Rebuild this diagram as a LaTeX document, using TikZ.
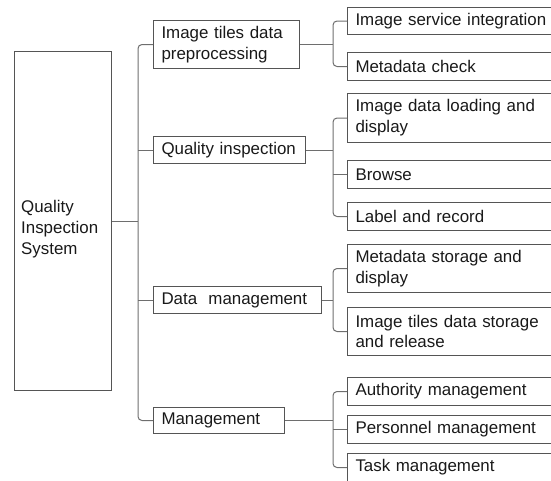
\documentclass[tikz,border=0pt]{standalone}
\usepackage{fontspec}
\setmainfont{Liberation Sans}
\definecolor{boxgray}{RGB}{85,85,85}
\definecolor{linegray}{RGB}{110,110,110}
\definecolor{inkgray}{RGB}{25,25,25}
\begin{document}
\begin{tikzpicture}[x=1pt,y=-1pt,
  every node/.style={font=\fontsize{16.9}{20.8}\selectfont, text=inkgray},
  box/.style={draw=boxgray, line width=1pt, inner xsep=8pt, inner ysep=0pt,
              align=left, anchor=north west},
  leaf/.style={box, minimum width=223pt, text width=207pt},
  conn/.style={draw=linegray, line width=1pt},
]
\useasboundingbox (0,0) rectangle (551,480);
\clip (0,0) rectangle (551,480);

% columns of the two bus lines
\coordinate (col1) at (138,0);
\coordinate (col2) at (333,0);

% root
\node[box, minimum width=97pt, minimum height=339pt] (root) at (14,51) {};
\node[anchor=west, align=left, inner sep=0pt] (roottext) at (21,229)
  {Quality\\Inspection\\System};

% first level
\node[box, minimum width=146pt, minimum height=48pt, text width=130pt] (b1) at (153,20)
  {Image tiles data\\preprocessing};
\node[box, minimum width=152pt, minimum height=27pt, text width=136pt] (b2) at (153,136)
  {Quality inspection};
\node[box, minimum width=168pt, minimum height=27pt, text width=152pt] (b3) at (153,286)
  {Data\ \ management};
\node[box, minimum width=131pt, minimum height=26pt, text width=115pt] (b4) at (153,407)
  {Management};

% second level
\node[leaf, minimum height=27pt] (l11) at (347,7)   {Image service integration};
\node[leaf, minimum height=28pt] (l12) at (347,52)  {Metadata check};
\node[leaf, minimum height=49pt] (l21) at (347,93)  {Image data loading and\\display};
\node[leaf, minimum height=28pt] (l22) at (347,160) {Browse};
\node[leaf, minimum height=28pt] (l23) at (347,202) {Label and record};
\node[leaf, minimum height=48pt] (l31) at (347,244) {Metadata storage and\\display};
\node[leaf, minimum height=48pt] (l32) at (347,307) {Image tiles data storage\\and release};
\node[leaf, minimum height=28pt] (l41) at (347,377) {Authority management};
\node[leaf, minimum height=28pt] (l42) at (347,415) {Personnel management};
\node[leaf, minimum height=28pt] (l43) at (347,453) {Task management};

% bus junctions
\coordinate (busA) at (root.east -| col1);
\coordinate (g1) at (b1.east -| col2);
\coordinate (g2) at (b2.east -| col2);
\coordinate (g3) at (b3.east -| col2);
\coordinate (g4) at (b4.east -| col2);

% root to first level
\draw[conn] (root.east) -- (busA);
\draw[conn, rounded corners=4pt] (b1.west) -| (busA) |- (b4.west);
\draw[conn] (busA |- b2.west) -- (b2.west);
\draw[conn] (busA |- b3.west) -- (b3.west);

% first level to second level
\draw[conn] (b1.east) -- (g1);
\draw[conn, rounded corners=4pt] (l11.west) -| (g1) |- (l12.west);

\draw[conn] (b2.east) -- (g2);
\draw[conn, rounded corners=4pt] (l21.west) -| (g2) |- (l23.west);
\draw[conn] (g2 |- l22.west) -- (l22.west);

\draw[conn] (b3.east) -- (g3);
\draw[conn, rounded corners=4pt] (l31.west) -| (g3) |- (l32.west);

\draw[conn] (b4.east) -- (g4);
\draw[conn, rounded corners=4pt] (l41.west) -| (g4) |- (l43.west);
\draw[conn] (g4 |- l42.west) -- (l42.west);
\end{tikzpicture}
\end{document}
